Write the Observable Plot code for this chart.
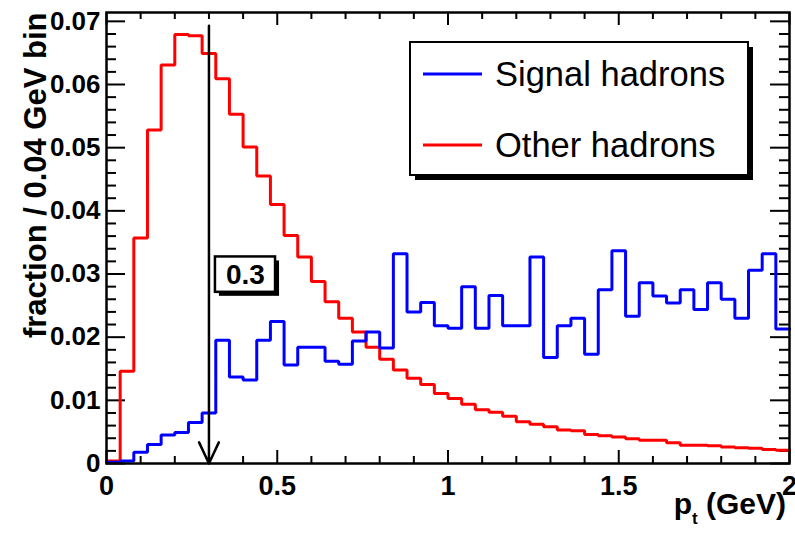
<!DOCTYPE html>
<html>
<head>
<meta charset="utf-8">
<script src="https://cdn.jsdelivr.net/npm/d3@7"></script>
<script src="https://cdn.jsdelivr.net/npm/@observablehq/plot@0.6"></script>
<style>
  html, body { margin: 0; padding: 0; background: #fff; }
  #chart { width: 795px; height: 537px; }
</style>
</head>
<body>
<div id="chart"></div>
<script>
// ---- data (fraction per 0.04 GeV bin, 50 bins from 0 to 2 GeV) ----
const binWidth = 0.04;
const signalHadrons = [
  0.0002, 0.0004, 0.0018, 0.0030, 0.0045, 0.0049, 0.0065, 0.0080, 0.0195, 0.0137,
  0.0132, 0.0195, 0.0225, 0.0156, 0.0184, 0.0184, 0.0162, 0.0157, 0.0194, 0.0208,
  0.0183, 0.0332, 0.0240, 0.0255, 0.0218, 0.0214, 0.0280, 0.0214, 0.0266, 0.0218,
  0.0218, 0.0327, 0.0168, 0.0218, 0.0230, 0.0173, 0.0275, 0.0337, 0.0233, 0.0286,
  0.0265, 0.0254, 0.0275, 0.0244, 0.0286, 0.0260, 0.0230, 0.0306, 0.0332, 0.0213
];
const otherHadrons = [
  0.0004, 0.0146, 0.0357, 0.0528, 0.0631, 0.0679, 0.0677, 0.0649, 0.0609, 0.0553,
  0.0501, 0.0455, 0.0410, 0.0361, 0.0327, 0.0288, 0.0256, 0.0230, 0.0208, 0.0184,
  0.0165, 0.0148, 0.0135, 0.0125, 0.0111, 0.0103, 0.0094, 0.0085, 0.0081, 0.0075,
  0.0066, 0.0062, 0.0058, 0.0053, 0.0052, 0.0046, 0.0044, 0.0042, 0.0039, 0.0037,
  0.0037, 0.0033, 0.0029, 0.0029, 0.0028, 0.0026, 0.0025, 0.0024, 0.0022, 0.0021
];
const seriesNames = ["Signal hadrons", "Other hadrons"];
const seriesColors = ["#0000ff", "#ff0000"];
const cutValue = 0.3;
const arrowTop = 0.0693;
const xTickValues = [0, 0.5, 1, 1.5, 2];
const xTickLabels = ["0", "0.5", "1", "1.5", "2"];
const yTickValues = [0, 0.01, 0.02, 0.03, 0.04, 0.05, 0.06, 0.07];
const yTickLabels = ["0", "0.01", "0.02", "0.03", "0.04", "0.05", "0.06", "0.07"];
const xDomain = [0, 2];
const yDomain = [0, 0.0714];
const yTitle = "fraction / 0.04 GeV bin";

// annotation box for the cut value (data units)
const cutLabelBox = {x1: 0.319, x2: 0.495, y1: 0.0271, y2: 0.0327};

// ---- layout ----
const W = 795, H = 537;
const mL = 106, mR = 6, mT = 12, mB = 74;
const frameW = W - mL - mR, frameH = H - mT - mB;
const font = "'Liberation Sans', Helvetica, Arial, sans-serif";

function steps(values) {
  const pts = values.map((v, i) => ({x: i * binWidth, y: v}));
  pts.push({x: values.length * binWidth, y: values[values.length - 1]});
  return pts;
}

const yMinor = d3.range(1, 36).filter(i => i % 5 !== 0).map(i => i * 0.002).filter(v => v < yDomain[1]);
const xMinor = d3.range(1, 20).filter(i => i % 5 !== 0).map(i => i / 10);

const tk = {stroke: "black", strokeWidth: 2};

const chart = Plot.plot({
  width: W, height: H,
  marginLeft: mL, marginRight: mR, marginTop: mT, marginBottom: mB,
  x: {domain: xDomain, label: null},
  y: {domain: yDomain, label: null},
  style: {fontFamily: font, background: "white", color: "black"},
  marks: [
    // ROOT-style inner ticks
    Plot.tickY(yTickValues, {y: d => d, insetRight: frameW - 19, ...tk}),
    Plot.tickY(yTickValues, {y: d => d, insetLeft: frameW - 19, ...tk}),
    Plot.tickY(yMinor, {y: d => d, insetRight: frameW - 10, ...tk}),
    Plot.tickY(yMinor, {y: d => d, insetLeft: frameW - 10, ...tk}),
    Plot.tickX(xTickValues, {x: d => d, insetTop: frameH - 13, ...tk}),
    Plot.tickX(xTickValues, {x: d => d, insetBottom: frameH - 13, ...tk}),
    Plot.tickX(xMinor, {x: d => d, insetTop: frameH - 7, ...tk}),
    Plot.tickX(xMinor, {x: d => d, insetBottom: frameH - 7, ...tk}),
    // histograms
    Plot.line(steps(otherHadrons), {x: "x", y: "y", curve: "step-after", stroke: seriesColors[1], strokeWidth: 3, strokeLinejoin: "miter"}),
    Plot.line(steps(signalHadrons), {x: "x", y: "y", curve: "step-after", stroke: seriesColors[0], strokeWidth: 3, strokeLinejoin: "miter"}),
    // cut arrow
    Plot.arrow([cutValue], {x1: d => d, x2: d => d, y1: () => arrowTop, y2: () => 0, stroke: "black", strokeWidth: 2.5, headLength: 14, headAngle: 50}),
    // cut label box
    Plot.rect([cutLabelBox], {x1: "x1", x2: "x2", y1: "y1", y2: "y2", fill: "black", dx: 4, dy: 4}),
    Plot.rect([cutLabelBox], {x1: "x1", x2: "x2", y1: "y1", y2: "y2", fill: "white", stroke: "black", strokeWidth: 2.5}),
    Plot.text([cutLabelBox], {x: d => (d.x1 + d.x2) / 2, y: d => (d.y1 + d.y2) / 2, text: () => String(cutValue), fontSize: 28, fontWeight: "bold", fill: "black"}),
    // frame
    Plot.frame({stroke: "black", strokeWidth: 2.5}),
    // axes labels
    Plot.axisX(xTickValues, {tickSize: 0, tickPadding: 12, tickFormat: d => xTickLabels[xTickValues.indexOf(d)], fontSize: 27, fontWeight: "bold", label: null}),
    Plot.axisY(yTickValues, {tickSize: 0, tickPadding: 6, tickFormat: d => yTickLabels[yTickValues.indexOf(d)], fontSize: 26, fontWeight: "bold", label: null}),
    // y title
    Plot.text([yTitle], {frameAnchor: "top-left", text: d => d, rotate: -90, textAnchor: "end", dx: -83, dy: 0, fontSize: 31, fontWeight: "bold", fill: "black"})
  ]
});

document.getElementById("chart").appendChild(chart);

// ---- x title with subscript ----
const svg = d3.select(chart);
const xt = svg.append("text")
  .attr("x", 786).attr("y", 514)
  .attr("text-anchor", "end")
  .attr("font-family", font).attr("font-weight", "bold").attr("font-size", 30).attr("fill", "black");
xt.append("tspan").text("p");
xt.append("tspan").attr("font-size", 17).attr("dy", 10).text("t");
xt.append("tspan").attr("dy", -10).text(" (GeV)");

// ---- legend ----
const lg = svg.append("g").attr("font-family", font).attr("text-anchor", "start");
const lx = 410, ly = 42, lw = 338, lh = 133;
lg.append("rect").attr("x", lx + 5).attr("y", ly + 5).attr("width", lw).attr("height", lh).attr("fill", "black");
lg.append("rect").attr("x", lx).attr("y", ly).attr("width", lw).attr("height", lh)
  .attr("fill", "white").attr("stroke", "black").attr("stroke-width", 2);
const entryY = [74, 145];
seriesNames.forEach((name, i) => {
  lg.append("line").attr("x1", 423).attr("x2", 482).attr("y1", entryY[i]).attr("y2", entryY[i])
    .attr("stroke", seriesColors[i]).attr("stroke-width", 3);
  lg.append("text").attr("x", 495).attr("y", entryY[i]).attr("dy", "0.35em")
    .attr("text-anchor", "start")
    .attr("font-size", 34.5).attr("fill", "black").text(name);
});
</script>
</body>
</html>
